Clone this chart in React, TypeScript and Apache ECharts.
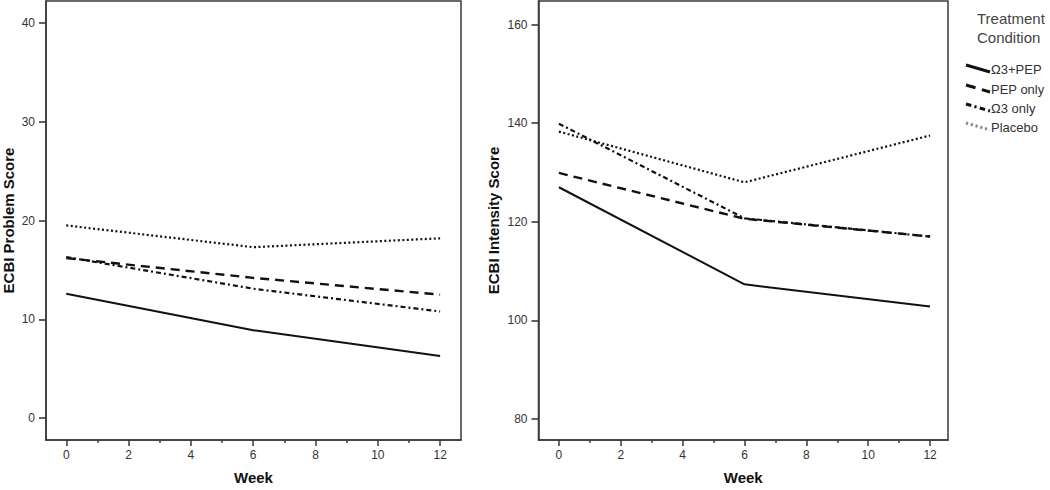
import React, { useEffect, useRef } from "react";
import * as echarts from "echarts";

// ---- data ----
const weeks = [0, 6, 12];
const seriesNames = ["Ω3+PEP", "PEP only", "Ω3 only", "Placebo"];
const problemCombined = [12.6, 8.9, 6.3];
const problemPEP = [16.2, 14.2, 12.5];
const problemOmega = [16.3, 13.1, 10.8];
const problemPlacebo = [19.5, 17.3, 18.2];
const intensityCombined = [127.0, 107.3, 102.8];
const intensityPEP = [129.9, 120.6, 117.0];
const intensityOmega = [139.9, 120.7, 117.0];
const intensityPlacebo = [138.3, 128.0, 137.5];
const weekTicks = [0, 2, 4, 6, 8, 10, 12];
const weekMinorTicks = [1, 3, 5, 7, 9, 11];
const problemTicks = [0, 10, 20, 30, 40];
const intensityTicks = [80, 100, 120, 140, 160];
const legendTitle = "Treatment\nCondition";
const xTitle = "Week";
const yTitleLeft = "ECBI Problem Score";
const yTitleRight = "ECBI Intensity Score";

const FONT = "Liberation Sans, Arial, sans-serif";
const AXIS_COLOR = "#3a3a3a";
const LINE_COLOR = "#111";

const styles: any[] = [
  { type: "solid", width: 2 },
  { type: [9, 6], width: 2.4 },
  { type: [5, 3, 2, 3], width: 2.2 },
  { type: [2, 2.5], width: 2.2 },
];

function toPairs(vals: number[]) {
  return weeks.map((w, i) => [w, vals[i]]);
}

export default function App() {
  const ref = useRef<HTMLDivElement>(null);
  useEffect(() => {
    if (!ref.current) return;
    const chart = echarts.init(ref.current, undefined, { renderer: "svg" });

    const grids = [
      { left: 44, right: 589, top: 1, bottom: 46 },
      { left: 538.5, right: 102, top: 1, bottom: 45 },
    ].map((g) => ({
      ...g,
      show: true,
      borderColor: AXIS_COLOR,
      borderWidth: 1.5,
      backgroundColor: "transparent",
      containLabel: false,
    }));

    const xMin = [-0.65, -0.66];
    const xMax = [12.67, 12.58];

    const xAxes: any[] = [];
    [0, 1].forEach((gi) => {
      xAxes.push({
        type: "value",
        gridIndex: gi,
        min: xMin[gi],
        max: xMax[gi],
        position: "bottom",
        name: xTitle,
        nameLocation: "middle",
        nameGap: 30,
        nameTextStyle: { fontFamily: FONT, fontSize: 15, fontWeight: "bold", color: "#111" },
        axisLine: { show: true, onZero: false, lineStyle: { color: AXIS_COLOR, width: 1.5 } },
        axisTick: { show: true, length: 6, customValues: weekTicks, lineStyle: { color: AXIS_COLOR, width: 1.5 } },
        axisLabel: { show: true, customValues: weekTicks, margin: 9, fontFamily: FONT, fontSize: 12, color: "#333" },
        splitLine: { show: false },
      });
      xAxes.push({
        type: "value",
        gridIndex: gi,
        min: xMin[gi],
        max: xMax[gi],
        position: "bottom",
        axisLine: { show: false, onZero: false },
        axisTick: { show: true, length: 3, customValues: weekMinorTicks, lineStyle: { color: AXIS_COLOR, width: 1.5 } },
        axisLabel: { show: false },
        splitLine: { show: false },
      });
    });

    const yAxes: any[] = [
      { min: -2.2, max: 42.2, customValues: problemTicks, name: yTitleLeft, nameGap: 30 },
      { min: 75.7, max: 164.8, customValues: intensityTicks, name: yTitleRight, nameGap: 38 },
    ].map((a, gi) => ({
      type: "value",
      gridIndex: gi,
      position: "left",
      min: a.min,
      max: a.max,
      name: a.name,
      nameLocation: "middle",
      nameGap: a.nameGap,
      nameTextStyle: { fontFamily: FONT, fontSize: 15, fontWeight: "bold", color: "#111" },
      axisLine: { show: true, onZero: false, lineStyle: { color: AXIS_COLOR, width: 1.5 } },
      axisTick: { show: true, length: 7, customValues: a.customValues, lineStyle: { color: AXIS_COLOR, width: 1.6 } },
      axisLabel: { show: true, customValues: a.customValues, margin: 11, fontFamily: FONT, fontSize: 12, color: "#333" },
      splitLine: { show: false },
    }));

    const leftData = [problemCombined, problemPEP, problemOmega, problemPlacebo];
    const rightData = [intensityCombined, intensityPEP, intensityOmega, intensityPlacebo];

    const series: any[] = [];
    [leftData, rightData].forEach((set, gi) => {
      set.forEach((vals, si) => {
        series.push({
          type: "line",
          name: seriesNames[si],
          xAxisIndex: gi * 2,
          yAxisIndex: gi,
          data: toPairs(vals),
          showSymbol: false,
          symbol: "none",
          silent: true,
          lineStyle: { color: LINE_COLOR, width: styles[si].width, type: styles[si].type },
        });
      });
    });

    // legend drawn as graphic (SPSS style diagonal samples)
    const legendY = [69, 89, 108, 127];
    const legendColors = ["#111", "#111", "#111", "#888"];
    const graphic: any[] = [
      {
        type: "text",
        left: 977,
        top: 9,
        style: {
          text: legendTitle,
          fontFamily: FONT,
          fontSize: 15,
          fill: "#444",
          align: "center",
          lineHeight: 19,
          x: 34,
        },
      },
    ];
    seriesNames.forEach((n, i) => {
      graphic.push({
        type: "line",
        shape: { x1: 966, y1: legendY[i] - 4, x2: 990, y2: legendY[i] + 3 },
        style: {
          stroke: legendColors[i],
          lineWidth: 3,
          lineDash: i === 0 ? null : (styles[i].type as number[]).map((d) => d * 1.1),
        },
      });
      graphic.push({
        type: "text",
        x: 991,
        y: legendY[i],
        style: {
          text: n,
          fontFamily: FONT,
          fontSize: 13,
          fill: "#333",
          verticalAlign: "middle",
          align: "left",
        },
      });
    });

    chart.setOption({
      animation: false,
      backgroundColor: "#fff",
      grid: grids,
      xAxis: xAxes,
      yAxis: yAxes,
      series,
      graphic,
    });
    return () => chart.dispose();
  }, []);

  return (
    <div
      ref={ref}
      style={{ position: "fixed", left: 0, top: 0, width: 1050, height: 490 }}
    />
  );
}
